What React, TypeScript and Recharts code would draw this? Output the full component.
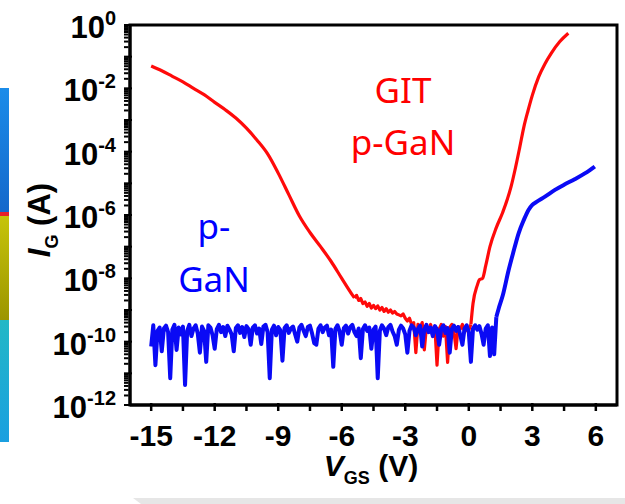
import React from "react";
import { LineChart, Line, XAxis, YAxis } from "recharts";

// ---------- data (V_GS in volts, I_G in amps) ----------
const redRise: [number, number][] = [
  [-15.0, 5.1e-2], [-14.5, 3.6e-2], [-14.0, 2.4e-2], [-13.5, 1.6e-2], [-13.0, 1.0e-2],
  [-12.5, 6.3e-3], [-12.0, 3.6e-3], [-11.5, 2.1e-3], [-11.0, 1.15e-3], [-10.5, 5.5e-4],
  [-10.0, 2.3e-4], [-9.5, 8.5e-5], [-9.0, 2.1e-5], [-8.5, 4.4e-6], [-8.0, 9.3e-7],
  [-7.5, 2.8e-7], [-7.0, 1.0e-7], [-6.5, 3.4e-8], [-6.0, 1.0e-8], [-5.5, 3.0e-9],
  [-5.4, 2.4e-9],
];

const redFloor: [number, number][] = [
  [-5.4, 2.4e-9], [-5.3, 2.9e-9], [-5.2, 2.0e-9], [-5.1, 2.3e-9], [-5.0, 1.6e-9],
  [-4.9, 1.8e-9], [-4.8, 1.3e-9], [-4.7, 1.6e-9], [-4.6, 1.15e-9], [-4.5, 1.4e-9],
  [-4.4, 1.1e-9], [-4.3, 1.35e-9], [-4.2, 1.0e-9], [-4.1, 1.2e-9], [-4.0, 9.0e-10],
  [-3.9, 1.1e-9], [-3.8, 8.5e-10], [-3.7, 1.0e-9], [-3.6, 8.0e-10], [-3.5, 9.0e-10],
  [-3.4, 7.5e-10], [-3.3, 7.0e-10], [-3.2, 6.5e-10], [-3.1, 7.5e-10], [-3.0, 5.5e-10],
  [-2.9, 4.5e-10], [-2.8, 5.5e-10], [-2.7, 3.5e-10], [-2.6, 4.0e-10], [-2.5, 4.5e-11],
  [-2.4, 3.5e-10], [-2.3, 2.5e-10], [-2.2, 4.0e-10], [-2.1, 5.5e-11], [-2.0, 3.0e-10],
  [-1.9, 2.0e-10], [-1.8, 3.5e-10], [-1.7, 1.5e-10], [-1.6, 3.0e-10], [-1.5, 1.8e-11],
  [-1.4, 2.5e-10], [-1.3, 3.5e-10], [-1.2, 1.5e-10], [-1.1, 3.0e-10], [-1.0, 2.2e-11],
  [-0.9, 2.8e-10], [-0.8, 3.5e-10], [-0.7, 2.0e-10], [-0.6, 6.0e-11], [-0.5, 3.0e-10],
  [-0.4, 2.5e-10], [-0.3, 3.5e-10], [-0.2, 2.0e-10], [-0.1, 2.5e-10], [0.0, 2.3e-10],
  [0.1, 3.5e-10],
];

const redOn: [number, number][] = [
  [0.1, 3.5e-10], [0.2, 1.6e-9], [0.4, 6.0e-9], [0.5, 9.0e-9], [0.65, 1.0e-8],
  [0.8, 2.5e-8], [1.0, 1.0e-7], [1.3, 4.0e-7], [1.6, 1.2e-6], [2.0, 8.0e-6],
  [2.2, 3.0e-5], [2.4, 1.3e-4], [2.6, 6.0e-4], [2.8, 2.0e-3], [3.0, 6.0e-3],
  [3.3, 2.3e-2], [3.6, 6.0e-2], [3.9, 0.13], [4.3, 0.3], [4.7, 0.55],
];

const blueFloor: [number, number][] = [
  [-15.0, 7e-11], [-14.9, 3.3e-10], [-14.8, 1.8e-11], [-14.7, 2.2e-10], [-14.6, 2.8e-10],
  [-14.5, 5e-11], [-14.4, 2.6e-10], [-14.3, 3.2e-10], [-14.2, 2.0e-10], [-14.1, 7e-12],
  [-14.0, 2.4e-10], [-13.9, 3.4e-10], [-13.8, 5.5e-11], [-13.7, 2.8e-10], [-13.6, 1.7e-10],
  [-13.5, 3.0e-10], [-13.4, 4.3e-12], [-13.3, 2.2e-10], [-13.2, 3.4e-10], [-13.1, 1.5e-10],
  [-13.0, 2.6e-10], [-12.9, 3.3e-10], [-12.8, 1.8e-10], [-12.7, 4.5e-11], [-12.6, 3.0e-10],
  [-12.5, 2.2e-10], [-12.4, 2.3e-11], [-12.3, 3.3e-10], [-12.2, 2.8e-10], [-12.1, 1.6e-10],
  [-12.0, 6e-11], [-11.9, 2.5e-10], [-11.8, 3.4e-10], [-11.7, 2.0e-10], [-11.6, 2.9e-10],
  [-11.5, 1.5e-10], [-11.4, 3.2e-10], [-11.3, 2.4e-10], [-11.2, 1.7e-10], [-11.1, 5e-11],
  [-11.0, 2.7e-10], [-10.9, 3.3e-10], [-10.8, 1.9e-10], [-10.7, 2.9e-10], [-10.6, 1.4e-10],
  [-10.5, 3.1e-10], [-10.4, 2.5e-10], [-10.3, 8e-11], [-10.2, 2.8e-10], [-10.1, 3.3e-10],
  [-10.0, 1.8e-10], [-9.9, 2.6e-10], [-9.8, 8.5e-11], [-9.7, 3.0e-10], [-9.6, 3.4e-10],
  [-9.5, 2.0e-10], [-9.4, 7e-12], [-9.3, 2.4e-10], [-9.2, 3.2e-10], [-9.1, 1.6e-10],
  [-9.0, 2.9e-10], [-8.9, 2.3e-10], [-8.8, 2.5e-11], [-8.7, 2.7e-10], [-8.6, 3.3e-10],
  [-8.5, 1.9e-10], [-8.4, 2.6e-10], [-8.3, 3.0e-10], [-8.2, 1.7e-10], [-8.1, 1.0e-10],
  [-8.0, 2.8e-10], [-7.9, 3.4e-10], [-7.8, 2.2e-10], [-7.7, 1.5e-10], [-7.6, 2.9e-10],
  [-7.5, 3.2e-10], [-7.4, 1.8e-10], [-7.3, 9e-11], [-7.2, 8e-11], [-7.1, 2.6e-10],
  [-7.0, 3.3e-10], [-6.9, 2.0e-10], [-6.8, 2.8e-10], [-6.7, 3.2e-10], [-6.6, 1.6e-10],
  [-6.5, 2.4e-10], [-6.4, 1.6e-11], [-6.3, 2.5e-10], [-6.2, 3.3e-10], [-6.1, 2.1e-10],
  [-6.0, 8e-11], [-5.9, 2.7e-10], [-5.8, 3.2e-10], [-5.7, 1.8e-10], [-5.6, 2.9e-10],
  [-5.5, 3.4e-10], [-5.4, 2.0e-10], [-5.3, 1.5e-10], [-5.2, 2.6e-10], [-5.1, 3e-11],
  [-5.0, 2.5e-10], [-4.9, 3.3e-10], [-4.8, 2.2e-10], [-4.7, 2.8e-10], [-4.6, 6e-11],
  [-4.5, 2.4e-10], [-4.4, 3.0e-10], [-4.3, 7e-12], [-4.2, 2.2e-10], [-4.1, 3.3e-10],
  [-4.0, 2.6e-10], [-3.9, 1.6e-10], [-3.8, 2.9e-10], [-3.7, 3.4e-10], [-3.6, 2.1e-10],
  [-3.5, 1.5e-10], [-3.4, 8e-11], [-3.3, 2.4e-10], [-3.2, 3.2e-10], [-3.1, 2.6e-10],
  [-3.0, 1.7e-10], [-2.9, 4.5e-11], [-2.8, 2.2e-10], [-2.7, 3.3e-10], [-2.6, 2.8e-10],
  [-2.5, 1.6e-10], [-2.4, 2.5e-10], [-2.3, 3.2e-10], [-2.2, 7e-11], [-2.1, 2.4e-10],
  [-2.0, 3.4e-10], [-1.9, 2.0e-10], [-1.8, 2.8e-10], [-1.7, 1.5e-10], [-1.6, 3.1e-10],
  [-1.5, 2.4e-10], [-1.4, 8e-11], [-1.3, 2.6e-10], [-1.2, 3.3e-10], [-1.1, 1.9e-10],
  [-1.0, 2.7e-10], [-0.9, 4.5e-11], [-0.8, 2.5e-10], [-0.7, 3.2e-10], [-0.6, 2.2e-10],
  [-0.5, 2.9e-10], [-0.4, 1.6e-10], [-0.3, 8e-11], [-0.2, 2.6e-10], [-0.1, 3.3e-10],
  [0.0, 2.0e-10], [0.1, 2.3e-11], [0.2, 2.6e-10], [0.3, 3.3e-10], [0.4, 2.4e-10],
  [0.5, 3.1e-10], [0.6, 1.8e-10], [0.7, 8e-11], [0.8, 2.6e-10], [0.9, 3.3e-10],
  [1.0, 3.5e-11], [1.1, 2.8e-10], [1.2, 4e-11], [1.3, 6e-10],
];

const blueOn: [number, number][] = [
  [1.3, 6e-10], [1.41, 1.1e-9], [1.6, 2.8e-9], [1.88, 1.8e-8], [2.1, 6.5e-8],
  [2.35, 2.6e-7], [2.6, 7.0e-7], [2.82, 1.45e-6], [3.0, 2.1e-6], [3.2, 2.6e-6],
  [3.6, 3.8e-6], [4.07, 6.2e-6], [4.5, 9.0e-6], [5.0, 1.35e-5], [5.5, 2.1e-5],
  [5.95, 3.4e-5],
];

// ---------- axes ----------
const xDomain: [number, number] = [-16, 7];
const yDomain: [number, number] = [1e-12, 1];
const xTicks = [-15, -13.5, -12, -10.5, -9, -7.5, -6, -4.5, -3, -1.5, 0, 1.5, 3, 4.5, 6];
const yDecades = [1e-12, 1e-11, 1e-10, 1e-9, 1e-8, 1e-7, 1e-6, 1e-5, 1e-4, 1e-3, 1e-2, 1e-1, 1];
const yMinorMult = [2, 3, 4, 5, 6, 7, 8, 9];
const yTicks = [
  ...yDecades,
  ...yDecades.slice(0, -1).flatMap((d) => yMinorMult.map((m) => m * d)),
].sort((a, b) => a - b);

const toPts = (arr: [number, number][]) => arr.map(([v, i]) => ({ v, i }));

const RED = "#ff0a0a";
const BLUE = "#0a0af5";
const FONT = "'Liberation Sans', Arial, sans-serif";
const AXIS_LINE = { stroke: "#000000", strokeWidth: 3 };

// chart layout
const CHART_W = 625;
const CHART_H = 504;
const MARGIN = { top: 25, right: 8, bottom: 0, left: 0 };
const Y_AXIS_W = 130;
const X_AXIS_H = 99;
const PX0 = MARGIN.left + Y_AXIS_W;
const PX1 = CHART_W - MARGIN.right;
const PY0 = MARGIN.top;
const PY1 = CHART_H - MARGIN.bottom - X_AXIS_H;

const XTick = (props: any) => {
  const { x, y, payload } = props;
  const val: number = payload.value;
  const major = Math.abs(val % 3) < 1e-9;
  return (
    <g>
      <line x1={x} x2={x} y1={y} y2={y - (major ? 8 : 5)} stroke="#000" strokeWidth={2.5} />
      {major && (
        <text x={x} y={y + 35} textAnchor="middle" fontFamily={FONT} fontWeight="bold" fontSize={30} fill="#000">
          {String(val)}
        </text>
      )}
    </g>
  );
};

const YTick = (props: any) => {
  const { x, y, payload } = props;
  const val: number = payload.value;
  const e = Math.round(Math.log10(val));
  const major = Math.abs(val / Math.pow(10, e) - 1) < 1e-6;
  return (
    <g>
      <line x1={x} x2={x + (major ? 8 : 4.5)} y1={y} y2={y} stroke="#000" strokeWidth={2} />
      {major && e % 2 === 0 && (
        <text x={x - 8} y={y + 13} textAnchor="end" fontFamily={FONT} fontWeight="bold" fill="#000">
          <tspan fontSize={31}>10</tspan>
          <tspan fontSize={20} dy={-13}>{e === 0 ? "0" : `-${-e}`}</tspan>
        </text>
      )}
    </g>
  );
};

export default function App() {
  return (
    <div style={{ position: "absolute", left: 0, top: 0, width: 625, height: 504, background: "#fff", overflow: "hidden" }}>
      {/* colour bar fragment at left edge */}
      <div style={{ position: "absolute", left: 0, top: 88, width: 9, height: 124, background: "linear-gradient(#1b8ce9, #1468cb)" }} />
      <div style={{ position: "absolute", left: 0, top: 212, width: 9, height: 4, background: "#e8202a" }} />
      <div style={{ position: "absolute", left: 0, top: 216, width: 9, height: 104, background: "linear-gradient(#c6c40a, #9c9500)" }} />
      <div style={{ position: "absolute", left: 0, top: 320, width: 9, height: 122, background: "linear-gradient(#22b8c6, #1a9fe0)" }} />
      {/* grey band at bottom */}
      <div style={{ position: "absolute", left: 133, top: 498, width: 492, height: 6, background: "#e6e6e6", clipPath: "polygon(0 0, 100% 0, 100% 100%, 8px 100%)" }} />

      <div style={{ position: "absolute", left: 0, top: 0 }}>
        <LineChart width={CHART_W} height={CHART_H} margin={MARGIN}>
          <XAxis
            dataKey="v"
            type="number"
            domain={xDomain}
            ticks={xTicks}
            interval={0}
            height={X_AXIS_H}
            axisLine={AXIS_LINE}
            tickLine={false}
            tickMargin={0}
            tick={(p: any) => <XTick {...p} />}
          />
          <XAxis
            xAxisId="top"
            orientation="top"
            type="number"
            domain={xDomain}
            height={0}
            tick={false}
            tickLine={false}
            axisLine={AXIS_LINE}
          />
          <YAxis
            dataKey="i"
            type="number"
            scale="log"
            domain={yDomain}
            allowDataOverflow
            ticks={yTicks}
            interval={0}
            width={Y_AXIS_W}
            axisLine={AXIS_LINE}
            tickLine={false}
            tickMargin={0}
            tick={(p: any) => <YTick {...p} />}
          />
          <YAxis
            yAxisId="right"
            orientation="right"
            type="number"
            domain={[0, 1]}
            width={0}
            tick={false}
            tickLine={false}
            axisLine={AXIS_LINE}
          />
          <Line data={toPts(redRise)} dataKey="i" type="monotone" stroke={RED} strokeWidth={3.2} dot={false} isAnimationActive={false} strokeLinejoin="round" />
          <Line data={toPts(redFloor)} dataKey="i" type="linear" stroke={RED} strokeWidth={3.2} dot={false} isAnimationActive={false} strokeLinejoin="round" />
          <Line data={toPts(redOn)} dataKey="i" type="monotone" stroke={RED} strokeWidth={3.2} dot={false} isAnimationActive={false} strokeLinejoin="round" />
          <Line data={toPts(blueFloor)} dataKey="i" type="linear" stroke={BLUE} strokeWidth={4} dot={false} isAnimationActive={false} strokeLinejoin="round" />
          <Line data={toPts(blueOn)} dataKey="i" type="monotone" stroke={BLUE} strokeWidth={4} dot={false} isAnimationActive={false} strokeLinejoin="round" />
        </LineChart>
      </div>

      {/* frame + text overlay */}
      <svg width={625} height={504} style={{ position: "absolute", left: 0, top: 0, pointerEvents: "none" }}>
        <path d={`M${PX0} ${PY0} H${PX1} V${PY1} H${PX0} Z`} fill="none" stroke="#000000" strokeWidth={3} />
        <g fontFamily="'Noto Sans', sans-serif" fontSize={35} textAnchor="middle">
          <text x={403} y={103} fill="#ff0000">GIT</text>
          <text x={403} y={155} fill="#ff0000">p-GaN</text>
          <text x={214} y={239} fill="#0000ff">p-</text>
          <text x={214} y={292} fill="#0000ff">GaN</text>
        </g>
        <text x={371} y={476} textAnchor="middle" fontFamily={FONT} fontWeight="bold" fill="#000">
          <tspan fontSize={30} fontStyle="italic">V</tspan>
          <tspan fontSize={18} dy={8}>GS</tspan>
          <tspan fontSize={30} dy={-8}> (V)</tspan>
        </text>
        <text x={50} y={220} transform="rotate(-90, 50, 220)" textAnchor="middle" fontFamily={FONT} fontWeight="bold" fill="#000">
          <tspan fontSize={31} fontStyle="italic">I</tspan>
          <tspan fontSize={18} dy={8}>G</tspan>
          <tspan fontSize={31} dy={-8}> (A)</tspan>
        </text>
      </svg>
    </div>
  );
}
